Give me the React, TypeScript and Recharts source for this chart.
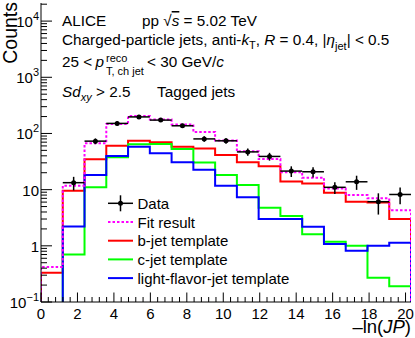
import React from "react";
import { ComposedChart, Line, Scatter, ErrorBar, XAxis, YAxis } from "recharts";

// 17 bins in -ln(JP), from 0 to 20.3
const binEdges = [0, 1.194, 2.388, 3.582, 4.776, 5.971, 7.165, 8.359, 9.553, 10.747, 11.941, 13.135, 14.329, 15.524, 16.718, 17.912, 19.106, 20.3];

// measured counts per bin (0 = empty bin)
const dataCounts = [0, 13.3, 73, 151, 197, 173, 137, 80, 74, 47, 39, 21.4, 20.8, 11, 13.8, 6.1, 8.2];
const dataErrors = [0, 3.6, 8.5, 12.3, 14, 13.2, 11.7, 9, 8.6, 6.8, 6.2, 4.6, 4.3, 2.6, 3.9, 2.5, 2.7];

const fitResult = [0.42, 11.7, 66.7, 147, 204, 178, 145, 106, 75, 48, 35, 20.3, 16.3, 10.5, 8.0, 7.0, 4.3];
const bJetTemplate = [0.33, 9.6, 34.6, 60.4, 74, 69.5, 58, 54, 41.3, 30.6, 26, 14, 12.9, 8.8, 6.1, 5.9, 3.0];
const cJetTemplate = [0, 0.7, 11, 37.6, 64, 64.7, 52.7, 30.3, 18.2, 12.1, 4.75, 3.4, 1.6, 1.18, 1.0, 0.27, 0.19];
const lightJetTemplate = [0, 2.2, 18.2, 39.6, 58, 44.3, 30.6, 22.6, 11.7, 7.3, 3.0, 3.0, 2.19, 1.08, 0.82, 1.0, 1.13];

const legendNames = ["Data", "Fit result", "b-jet template", "c-jet template", "light-flavor-jet template"];

const xMajorTicks = [0, 2, 4, 6, 8, 10, 12, 14, 16, 18, 20];
const yMajorTicks = [0.1, 1, 10, 100, 1000, 10000];
const yTickLabels: [string, string][] = [["10", "\u22121"], ["1", ""], ["10", ""], ["10", "2"], ["10", "3"], ["10", "4"]];

const X_DOMAIN: [number, number] = [0, 20.3];
const Y_DOMAIN: [number, number] = [0.1, 21000];
const FLOOR = 1e-3; // stands in for empty bins on the log axis
const FONT = "'Liberation Sans', Arial, Helvetica, sans-serif";

const RED = "#ff0000";
const GREEN = "#00ff00";
const BLUE = "#0000ff";
const MAGENTA = "#ff00ff";

function histSteps(values: number[]) {
  const n = values.length;
  const pts = [{ x: binEdges[0], y: FLOOR }];
  values.forEach((v, i) => pts.push({ x: binEdges[i], y: v > 0 ? v : FLOOR }));
  pts.push({ x: binEdges[n], y: values[n - 1] > 0 ? values[n - 1] : FLOOR });
  pts.push({ x: binEdges[n], y: FLOOR });
  return pts;
}

const dataPoints = dataCounts
  .map((v, i) => ({
    x: (binEdges[i] + binEdges[i + 1]) / 2,
    y: v,
    ex: (binEdges[i + 1] - binEdges[i]) / 2,
    ey: dataErrors[i],
  }))
  .filter((p) => p.y > 0);

// tick positions: majors every 2, minors every 0.4; log minors 2..9 per decade
const xTicks: number[] = [];
for (let i = 0; i * 0.4 <= X_DOMAIN[1]; i++) xTicks.push(Math.round(i * 4) / 10);
const yTicks: number[] = [];
yMajorTicks.forEach((d) => {
  for (let k = 1; k <= 9; k++) {
    const v = Number((k * d).toPrecision(3));
    if (v <= Y_DOMAIN[1]) yTicks.push(v);
  }
});

const isMajorY = (v: number) => yMajorTicks.findIndex((m) => Math.abs(m - v) / m < 1e-6);

function BottomTick(props: any) {
  const { x, y, payload } = props;
  const major = xMajorTicks.includes(payload.value);
  return (
    <g>
      <line x1={x} x2={x} y1={y} y2={y - (major ? 9.5 : 5)} stroke="#000" />
      {major && (
        <text x={x} y={y + 16.5} textAnchor="middle" fontSize={15} fontFamily={FONT} fill="#000">
          {payload.value}
        </text>
      )}
    </g>
  );
}

function TopTick(props: any) {
  const { x, y, payload } = props;
  const major = xMajorTicks.includes(payload.value);
  return <line x1={x} x2={x} y1={y} y2={y + (major ? 9.5 : 5)} stroke="#000" />;
}

function LeftTick(props: any) {
  const { x, y, payload } = props;
  const idx = isMajorY(payload.value);
  const major = idx >= 0;
  return (
    <g>
      <line x1={x} x2={x + (major ? 11 : 6)} y1={y} y2={y} stroke="#000" />
      {major && (
        <text x={x - 2} y={y + 6} textAnchor="end" fontSize={15} fontFamily={FONT} fill="#000">
          {yTickLabels[idx][0]}
          {yTickLabels[idx][1] && (
            <tspan dy={-7} fontSize={11}>
              {yTickLabels[idx][1]}
            </tspan>
          )}
        </text>
      )}
    </g>
  );
}

function RightTick(props: any) {
  const { x, y, payload } = props;
  const major = isMajorY(payload.value) >= 0;
  return <line x1={x} x2={x - (major ? 11 : 6)} y1={y} y2={y} stroke="#000" />;
}

const dot = (props: any) => <circle cx={props.cx} cy={props.cy} r={2.5} fill="#000" />;

function Legend() {
  const x0 = 108;
  const x1 = 133;
  const tx = 137.5;
  const y0 = 203.3;
  const dy = 18.7;
  const styles = [
    { stroke: "#000", dash: undefined },
    { stroke: MAGENTA, dash: "2.5 2" },
    { stroke: RED, dash: undefined },
    { stroke: GREEN, dash: undefined },
    { stroke: BLUE, dash: undefined },
  ];
  return (
    <g>
      {legendNames.map((name, i) => {
        const y = y0 + i * dy;
        const s = styles[i];
        return (
          <g key={name}>
            <line x1={x0} x2={x1} y1={y} y2={y} stroke={s.stroke} strokeWidth={i === 0 ? 1.5 : 2} strokeDasharray={s.dash} />
            {i === 0 && (
              <>
                <line x1={(x0 + x1) / 2} x2={(x0 + x1) / 2} y1={y - 8} y2={y + 8} stroke="#000" strokeWidth={1.5} />
                <circle cx={(x0 + x1) / 2} cy={y} r={2.5} fill="#000" />
              </>
            )}
            <text x={tx} y={y + 5.5} fontSize={15} fontFamily={FONT} fill="#000">
              {name}
            </text>
          </g>
        );
      })}
    </g>
  );
}

function Annotations() {
  const t = { fontSize: 15.3, fontFamily: FONT, fill: "#000" };
  const sub = 11;
  return (
    <svg width={415} height={338} style={{ position: "absolute", left: 0, top: 0, pointerEvents: "none" }}>
      <text x={62} y={26} {...t}>ALICE</text>
      <text x={142} y={26} {...t}>
        pp {"\u221A"}
        <tspan fontStyle="italic" textDecoration="overline">s</tspan> = 5.02 TeV
      </text>
      <text x={62} y={44.5} {...t}>
        Charged-particle jets, anti-
        <tspan fontStyle="italic">k</tspan>
        <tspan dy={4} fontSize={sub}>T</tspan>
        <tspan dy={-4}>, </tspan>
        <tspan fontStyle="italic">R</tspan> = 0.4, |<tspan fontStyle="italic">η</tspan>
        <tspan dy={5} fontSize={sub}>jet</tspan>
        <tspan dy={-5}>| &lt; 0.5</tspan>
      </text>
      <text x={62} y={66.7} {...t}>25 &lt;</text>
      <text x={95.5} y={66.7} {...t} fontStyle="italic">p</text>
      <text x={106} y={62} {...t} fontSize={sub}>reco</text>
      <text x={106} y={74.5} {...t} fontSize={sub}>T, ch jet</text>
      <text x={147} y={66.7} {...t}>
        &lt; 30 GeV/<tspan fontStyle="italic">c</tspan>
      </text>
      <text x={62} y={96.7} {...t}>
        <tspan fontStyle="italic">Sd</tspan>
        <tspan dy={4} fontSize={sub} fontStyle="italic">xy</tspan>
        <tspan dy={-4}> &gt; 2.5</tspan>
      </text>
      <text x={157} y={96.7} {...t}>Tagged jets</text>
      <Legend />
      <text x={411} y={333} textAnchor="end" fontSize={18.5} fontFamily={FONT} fill="#000">
        –ln(<tspan fontStyle="italic">JP</tspan>)
      </text>
      <text transform="translate(16.5, 2) rotate(-90)" textAnchor="end" fontSize={19.5} fontFamily={FONT} fill="#000">
        Counts
      </text>
    </svg>
  );
}

export default function App() {
  return (
    <div style={{ position: "absolute", left: 0, top: 0, width: 415, height: 338, background: "#fff" }}>
      <ComposedChart width={415} height={338} margin={{ top: 3, right: 4, bottom: 0, left: 0 }}>
        <XAxis
          dataKey="x"
          type="number"
          domain={X_DOMAIN}
          allowDataOverflow
          ticks={xTicks}
          interval={0}
          tickSize={0}
          tickMargin={0}
          tickLine={false}
          tick={BottomTick}
          axisLine={{ stroke: "#000" }}
          height={36}
        />
        <XAxis
          xAxisId="top"
          orientation="top"
          dataKey="x"
          type="number"
          domain={X_DOMAIN}
          allowDataOverflow
          ticks={xTicks}
          interval={0}
          tickSize={0}
          tickMargin={0}
          tickLine={false}
          tick={TopTick}
          axisLine={{ stroke: "#000" }}
          height={0}
        />
        <YAxis
          type="number"
          scale="log"
          domain={Y_DOMAIN}
          allowDataOverflow
          ticks={yTicks}
          interval={0}
          tickSize={0}
          tickMargin={0}
          tickLine={false}
          tick={LeftTick}
          axisLine={{ stroke: "#000" }}
          width={41}
        />
        <YAxis
          yAxisId="right"
          orientation="right"
          type="number"
          scale="log"
          domain={Y_DOMAIN}
          allowDataOverflow
          ticks={yTicks}
          interval={0}
          tickSize={0}
          tickMargin={0}
          tickLine={false}
          tick={RightTick}
          axisLine={{ stroke: "#000" }}
          width={0}
        />
        <Line data={histSteps(bJetTemplate)} dataKey="y" type="stepAfter" stroke={RED} strokeWidth={2} dot={false} isAnimationActive={false} />
        <Line data={histSteps(cJetTemplate)} dataKey="y" type="stepAfter" stroke={GREEN} strokeWidth={2} dot={false} isAnimationActive={false} />
        <Line data={histSteps(lightJetTemplate)} dataKey="y" type="stepAfter" stroke={BLUE} strokeWidth={2} dot={false} isAnimationActive={false} />
        <Line data={histSteps(fitResult)} dataKey="y" type="stepAfter" stroke={MAGENTA} strokeWidth={2} strokeDasharray="2.5 2" dot={false} isAnimationActive={false} />
        <Scatter data={dataPoints} dataKey="y" shape={dot} isAnimationActive={false}>
          <ErrorBar dataKey="ex" direction="x" width={0} stroke="#000" strokeWidth={1.5} />
          <ErrorBar dataKey="ey" direction="y" width={0} stroke="#000" strokeWidth={1.5} />
        </Scatter>
      </ComposedChart>
      <Annotations />
    </div>
  );
}
